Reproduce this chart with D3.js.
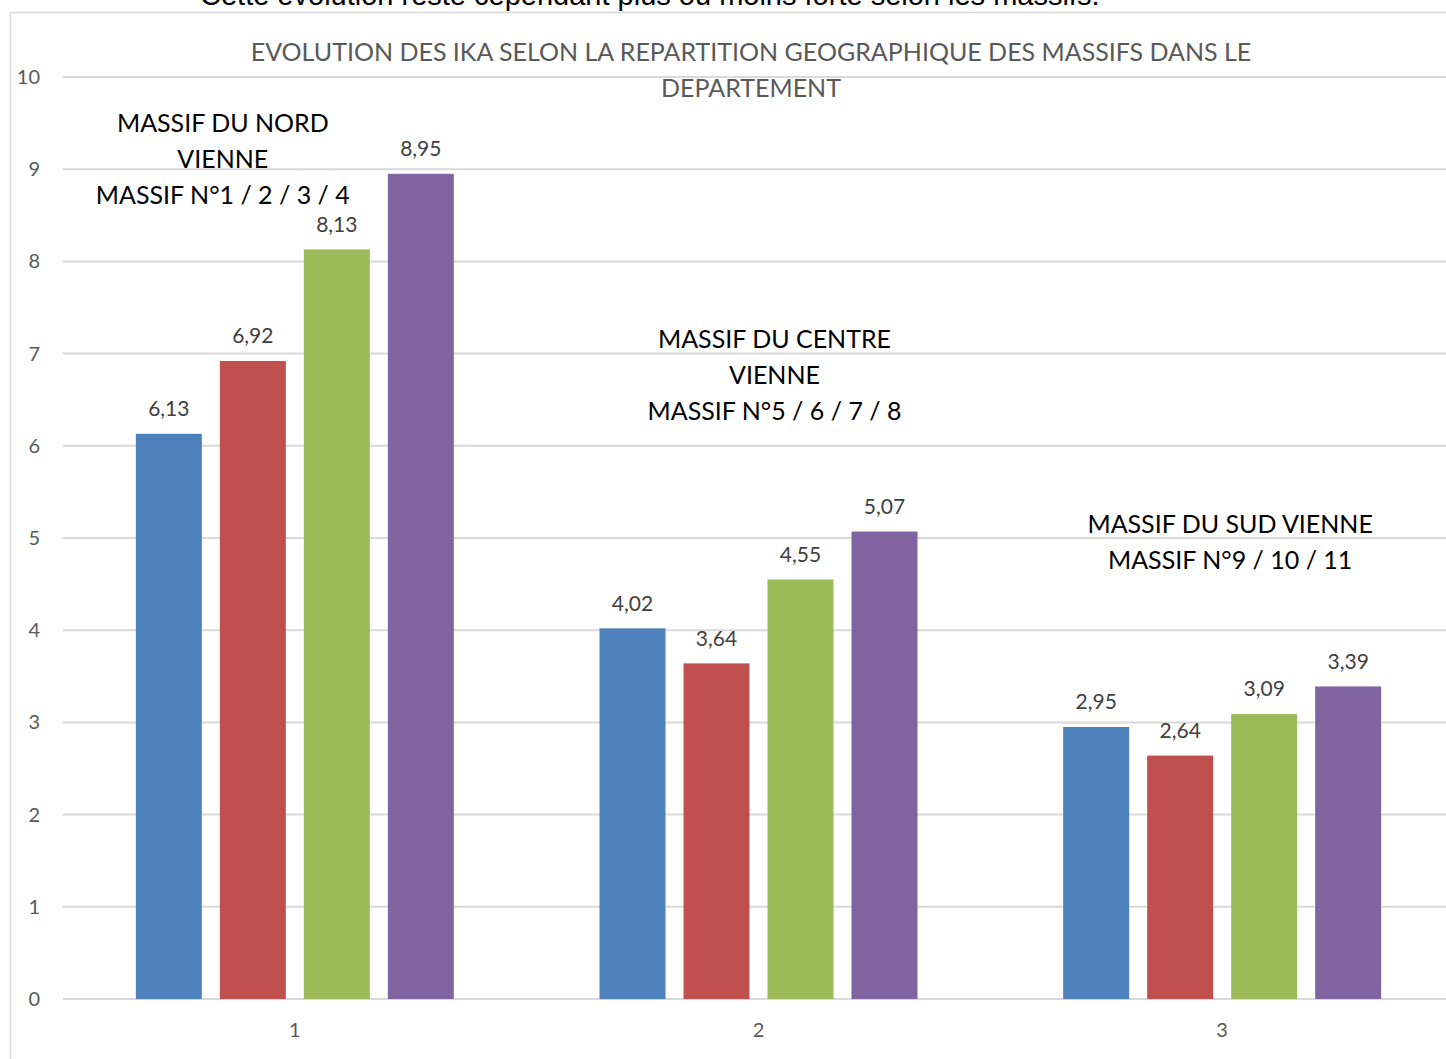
<!DOCTYPE html>
<meta charset="utf-8">
<script src="https://d3js.org/d3.v7.min.js"></script>
<style>
  body { margin: 0; background: #fff; }
  svg text { font-family: Lato, "Open Sans", sans-serif; }
</style>
<div id="my_dataviz"></div>
<script>

// data
var categories = ["1", "2", "3"];
var series = ["s1", "s2", "s3", "s4"];
var values = [
  [6.13, 6.92, 8.13, 8.95],
  [4.02, 3.64, 4.55, 5.07],
  [2.95, 2.64, 3.09, 3.39]
];
var yTicks = [0, 1, 2, 3, 4, 5, 6, 7, 8, 9, 10];
var titleLines = ["EVOLUTION DES IKA SELON LA REPARTITION GEOGRAPHIQUE DES MASSIFS DANS LE", "DEPARTEMENT"];
var notes = [
  { cat: "1", yVal: 9.5, lines: ["MASSIF DU NORD", "VIENNE", "MASSIF N°1 / 2 / 3 / 4"] },
  { cat: "2", yVal: 7.16, lines: ["MASSIF DU CENTRE", "VIENNE", "MASSIF N°5 / 6 / 7 / 8"] },
  { cat: "3", yVal: 5.15, lines: ["MASSIF DU SUD VIENNE", "MASSIF N°9 / 10 / 11"] }
];
var introText = "Cette évolution reste cependant plus ou moins forte selon les massifs.";

var colors = ["#4F81BD", "#C0504D", "#9BBB59", "#8064A2"];

var W = 1446, H = 1059;
var margin = {left: 63, right: -8, top: 77, bottom: 60};

var svg = d3.select("#my_dataviz")
  .append("svg")
    .attr("width", W)
    .attr("height", H);

// text above the chart (cut off by the page top, as in the source)
svg.append("text")
  .attr("x", 200).attr("y", 5)
  .text(introText)
  .style("font-family", "'Liberation Sans', Arial, sans-serif")
  .style("font-size", "29px")
  .style("fill", "#000");

// chart frame
svg.append("rect")
  .attr("x", 10.5).attr("y", 12.5)
  .attr("width", W + 20).attr("height", H + 20)
  .style("fill", "none")
  .style("stroke", "#D9D9D9")
  .style("stroke-width", 1.5);

// scales
var x0 = d3.scaleBand()
  .domain(categories)
  .range([margin.left, W - margin.right])
  .padding(0);

var innerW = 336;
var x1 = d3.scaleBand()
  .domain(series)
  .range([(x0.bandwidth() - innerW) / 2, (x0.bandwidth() + innerW) / 2])
  .paddingInner(18 / 84)
  .paddingOuter(9 / 84);

var y = d3.scaleLinear()
  .domain([0, 10])
  .range([999, 77]);

// gridlines
svg.append("g")
  .selectAll("line")
  .data(yTicks)
  .enter()
  .append("line")
    .attr("x1", margin.left)
    .attr("x2", W)
    .attr("y1", function (d) { return y(d); })
    .attr("y2", function (d) { return y(d); })
    .style("stroke", "#D9D9D9")
    .style("stroke-width", 2);

// y tick labels
svg.append("g")
  .selectAll("text")
  .data(yTicks)
  .enter()
  .append("text")
    .attr("x", 40)
    .attr("y", function (d) { return y(d); })
    .attr("dy", "0.35em")
    .attr("text-anchor", "end")
    .text(function (d) { return d; })
    .style("font-size", "20px")
    .style("fill", "#595959");

// x tick labels
svg.append("g")
  .selectAll("text")
  .data(categories)
  .enter()
  .append("text")
    .attr("x", function (d) { return x0(d) + x0.bandwidth() / 2; })
    .attr("y", 1030)
    .attr("dy", "0.35em")
    .attr("text-anchor", "middle")
    .text(function (d) { return d; })
    .style("font-size", "20px")
    .style("fill", "#595959");

// bars
var groups = svg.append("g")
  .selectAll("g")
  .data(categories)
  .enter()
  .append("g")
    .attr("transform", function (d) { return "translate(" + x0(d) + ",0)"; });

groups.selectAll("rect")
  .data(function (d, i) { return values[i].map(function (v, j) { return {s: series[j], v: v, j: j}; }); })
  .enter()
  .append("rect")
    .attr("x", function (d) { return x1(d.s); })
    .attr("y", function (d) { return y(d.v); })
    .attr("width", x1.bandwidth())
    .attr("height", function (d) { return y(0) - y(d.v); })
    .style("fill", function (d) { return colors[d.j]; });

groups.selectAll("text")
  .data(function (d, i) { return values[i].map(function (v, j) { return {s: series[j], v: v}; }); })
  .enter()
  .append("text")
    .attr("x", function (d) { return x1(d.s) + x1.bandwidth() / 2; })
    .attr("y", function (d) { return y(d.v) - 25; })
    .attr("dy", "0.35em")
    .attr("text-anchor", "middle")
    .text(function (d) { return d3.format(".2f")(d.v).replace(".", ","); })
    .style("font-size", "21px")
    .style("fill", "#404040");

// title
svg.append("g")
  .selectAll("text")
  .data(titleLines)
  .enter()
  .append("text")
    .attr("x", 751)
    .attr("y", function (d, i) { return 52 + i * 36; })
    .attr("dy", "0.35em")
    .attr("text-anchor", "middle")
    .text(function (d) { return d; })
    .style("font-size", "25px")
    .style("fill", "#595959");

// annotations
notes.forEach(function (n) {
  var cx = n.cat === "1" ? x0(n.cat) + x0.bandwidth() / 2 - 72 :
           n.cat === "2" ? x0(n.cat) + x0.bandwidth() / 2 + 16 :
                           x0(n.cat) + x0.bandwidth() / 2 + 8;
  svg.append("g")
    .selectAll("text")
    .data(n.lines)
    .enter()
    .append("text")
      .attr("x", cx)
      .attr("y", function (d, i) { return y(n.yVal) + i * 36; })
      .attr("dy", "0.35em")
      .attr("text-anchor", "middle")
      .text(function (d) { return d; })
      .style("font-size", "25px")
      .style("fill", "#000");
});

</script>
